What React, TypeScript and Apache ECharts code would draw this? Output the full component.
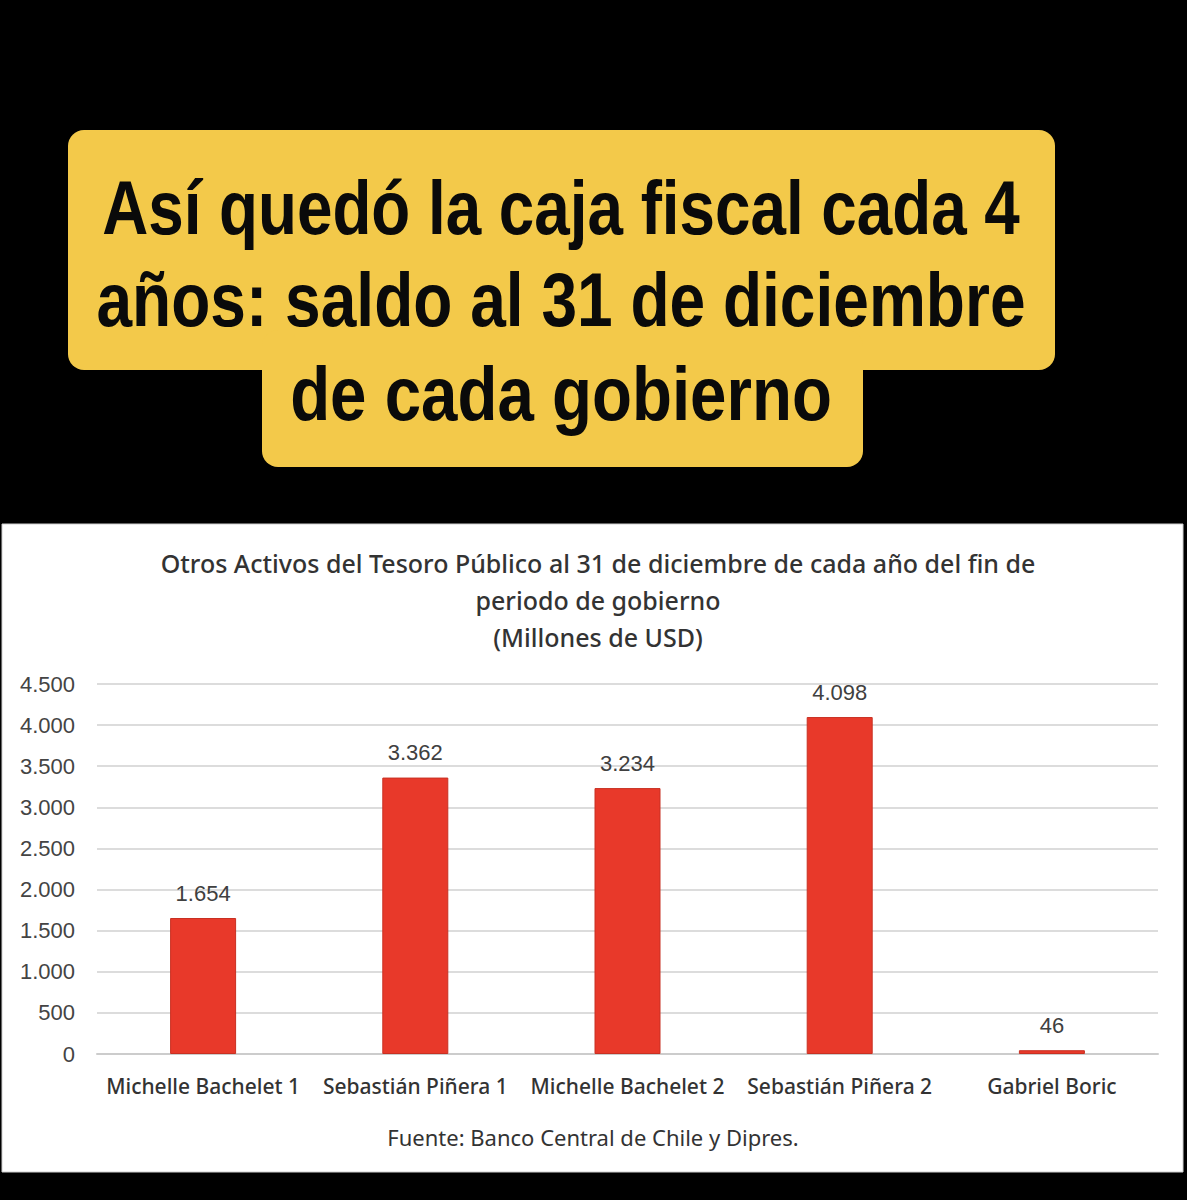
import React, { useEffect, useRef } from "react";
import * as echarts from "echarts";

const headlineLines = [
  "Así quedó la caja fiscal cada 4",
  "años: saldo al 31 de diciembre",
  "de cada gobierno",
];
const chartTitle =
  "Otros Activos del Tesoro Público al 31 de diciembre de cada año del fin de\nperiodo de gobierno\n(Millones de USD)";
const sourceNote = "Fuente: Banco Central de Chile y Dipres.";
const categories = [
  "Michelle Bachelet 1",
  "Sebastián Piñera 1",
  "Michelle Bachelet 2",
  "Sebastián Piñera 2",
  "Gabriel Boric",
];
const values = [1654, 3362, 3234, 4098, 46];
const yMin = 0;
const yMax = 4500;
const yStep = 500;

const fmt = (v: number) => String(v).replace(/\B(?=(\d{3})+(?!\d))/g, ".");

export default function App() {
  const ref = useRef<HTMLDivElement>(null);
  useEffect(() => {
    document.body.style.margin = "0";
    if (!ref.current) return;
    const chart = echarts.init(ref.current, null, { renderer: "svg" });
    const yellow = "#F3C94A";
    const headFont = "bold 76px 'Liberation Sans', Arial, sans-serif";
    const headTargets = [918, 929, 542];
    const headY = [208, 300, 394];
    const canvas = document.createElement("canvas");
    const ctx = canvas.getContext("2d")!;
    ctx.font = headFont;
    const scales = headlineLines.map((t, i) => {
      const w = ctx.measureText(t).width || headTargets[i];
      return headTargets[i] / w;
    });
    chart.setOption({
      animation: false,
      backgroundColor: "#000000",
      graphic: [
        { type: "rect", shape: { x: 68, y: 130, width: 987, height: 240, r: 16 }, style: { fill: yellow } },
        { type: "rect", shape: { x: 262, y: 330, width: 601, height: 137, r: 16 }, style: { fill: yellow } },
        ...headlineLines.map((t, i) => ({
          type: "text",
          x: 561,
          y: headY[i],
          scaleX: scales[i],
          style: {
            text: t,
            fill: "#0a0a0a",
            font: headFont,
            align: "center",
            verticalAlign: "middle",
          },
        })),
        {
          type: "rect",
          z: -1,
          shape: { x: 2, y: 524, width: 1181, height: 648 },
          style: { fill: "#ffffff", stroke: "#cfcfcf", lineWidth: 1 },
        },
        {
          type: "text",
          x: 593,
          y: 1137,
          style: {
            text: sourceNote,
            fill: "#333333",
            font: "22px 'Noto Sans', sans-serif",
            align: "center",
            verticalAlign: "middle",
          },
        },
      ],
      title: {
        text: chartTitle,
        left: 593,
        top: 539,
        textAlign: "center",
        textStyle: {
          color: "#333333",
          fontFamily: "'Noto Sans', sans-serif",
          fontSize: 25,
          fontWeight: 500,
          lineHeight: 37,
        },
      },
      grid: { left: 97, right: 29, top: 684, bottom: 146, containLabel: false },
      xAxis: {
        type: "category",
        data: categories,
        axisLine: { lineStyle: { color: "#cccccc", width: 2 } },
        axisTick: { show: false },
        axisLabel: {
          interval: 0,
          hideOverlap: false,
          color: "#333333",
          fontFamily: "'Noto Sans', sans-serif",
          fontSize: 21,
          fontWeight: 500,
          margin: 21,
        },
      },
      yAxis: {
        type: "value",
        min: yMin,
        max: yMax,
        interval: yStep,
        axisLine: { show: false },
        axisTick: { show: false },
        splitLine: { lineStyle: { color: "#d0d0d0", width: 1.5 } },
        axisLabel: {
          color: "#444444",
          fontFamily: "'Liberation Sans', Arial, sans-serif",
          fontSize: 22,
          margin: 22,
          formatter: (v: number) => fmt(v),
        },
      },
      series: [
        {
          type: "bar",
          data: values,
          barWidth: 66,
          itemStyle: { color: "#E8392A", borderColor: "#c83022", borderWidth: 1 },
          label: {
            show: true,
            position: "top",
            distance: 14,
            color: "#404040",
            fontFamily: "'Liberation Sans', Arial, sans-serif",
            fontSize: 22,
            formatter: (p: any) => fmt(p.value),
          },
        },
      ],
    });
    return () => chart.dispose();
  }, []);
  return <div ref={ref} style={{ width: 1187, height: 1200 }} />;
}
